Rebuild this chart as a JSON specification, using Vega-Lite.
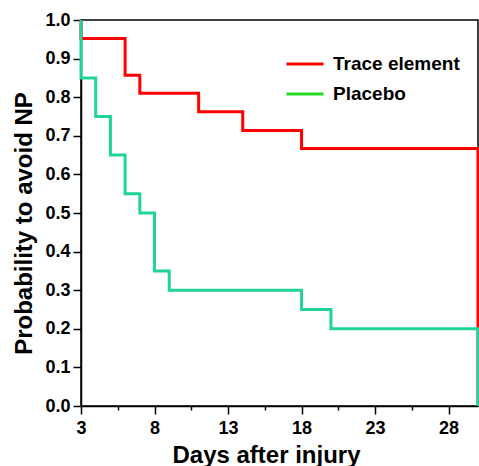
{
  "$schema": "https://vega.github.io/schema/vega-lite/v6.json",
  "width": 397,
  "height": 386,
  "autosize": {"type": "none"},
  "padding": {"left": 81, "top": 20, "right": 1, "bottom": 60},
  "background": "white",
  "config": {
    "font": "Liberation Sans",
    "view": {"stroke": "black", "strokeWidth": 1.5},
    "axis": {"grid": false, "domainColor": "black", "domainWidth": 1.5, "tickColor": "black", "tickWidth": 1.5,
      "labelFont": "Liberation Sans", "labelFontWeight": "bold", "labelFontSize": 18, "labelColor": "black",
      "titleFont": "Liberation Sans", "titleFontWeight": "bold", "titleFontSize": 24, "titleColor": "black"}
  },
  "data": {"values": [
    {"i": 0, "day": 3, "p": 1.0, "group": "Trace element"},
    {"i": 1, "day": 3, "p": 0.952, "group": "Trace element"},
    {"i": 2, "day": 6, "p": 0.857, "group": "Trace element"},
    {"i": 3, "day": 7, "p": 0.81, "group": "Trace element"},
    {"i": 4, "day": 11, "p": 0.762, "group": "Trace element"},
    {"i": 5, "day": 14, "p": 0.714, "group": "Trace element"},
    {"i": 6, "day": 18, "p": 0.667, "group": "Trace element"},
    {"i": 7, "day": 30, "p": 0.0, "group": "Trace element"},
    {"i": 0, "day": 3, "p": 1.0, "group": "Placebo"},
    {"i": 1, "day": 3, "p": 0.85, "group": "Placebo"},
    {"i": 2, "day": 4, "p": 0.75, "group": "Placebo"},
    {"i": 3, "day": 5, "p": 0.65, "group": "Placebo"},
    {"i": 4, "day": 6, "p": 0.55, "group": "Placebo"},
    {"i": 5, "day": 7, "p": 0.5, "group": "Placebo"},
    {"i": 6, "day": 8, "p": 0.35, "group": "Placebo"},
    {"i": 7, "day": 9, "p": 0.3, "group": "Placebo"},
    {"i": 8, "day": 18, "p": 0.25, "group": "Placebo"},
    {"i": 9, "day": 20, "p": 0.2, "group": "Placebo"},
    {"i": 10, "day": 30, "p": 0.0, "group": "Placebo"}
  ]},
  "encoding": {
    "x": {"field": "day", "type": "quantitative", "scale": {"domain": [3, 30], "nice": false, "zero": false},
      "title": "Days after injury",
      "axis": {"values": [3, 5.5, 8, 10.5, 13, 15.5, 18, 20.5, 23, 25.5, 28],
        "labelExpr": "datum.value % 5 == 3 ? datum.label : ''",
        "tickSize": {"condition": {"test": "datum.value % 5 == 3", "value": 8}, "value": 4},
        "labelPadding": 5, "titlePadding": 6, "titleX": 185, "labelFlush": false}},
    "y": {"field": "p", "type": "quantitative", "scale": {"domain": [0, 1], "nice": false},
      "title": "Probability to avoid NP",
      "axis": {"values": [0, 0.1, 0.2, 0.3, 0.4, 0.5, 0.6, 0.7, 0.8, 0.9, 1.0], "format": ".1f",
        "tickSize": 8, "labelPadding": 3, "titlePadding": 8, "titleY": 203, "labelFlush": false}},
    "order": {"field": "i", "type": "quantitative"}
  },
  "layer": [
    {
      "mark": {"type": "line", "interpolate": "step-after", "strokeWidth": 3, "clip": false},
      "encoding": {
        "stroke": {"field": "group", "type": "nominal",
          "scale": {"domain": ["Placebo", "Trace element"], "range": ["#1fd39b", "#ff0000"]},
          "legend": null}
      }
    },
    {
      "transform": [{"filter": "datum.p > 2"}],
      "mark": {"type": "line", "strokeWidth": 3},
      "encoding": {
        "color": {"field": "group", "type": "nominal",
          "scale": {"domain": ["Trace element", "Placebo"], "range": ["#ff0000", "#22dd22"]},
          "legend": {"title": null, "orient": "none", "legendX": 204, "legendY": 24, "padding": 0,
            "symbolType": "stroke", "symbolSize": 1369, "symbolStrokeWidth": 3,
            "labelFont": "Liberation Sans", "labelFontWeight": "bold", "labelFontSize": 19, "labelColor": "black",
            "rowPadding": -11, "labelOffset": 8}}
      }
    }
  ]
}
